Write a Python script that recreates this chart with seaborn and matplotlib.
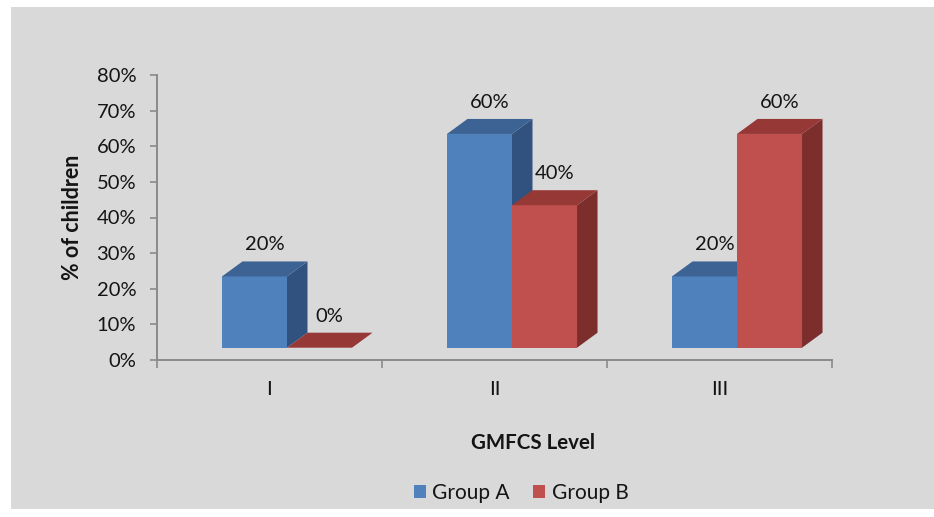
import matplotlib
matplotlib.use("Agg")
import matplotlib.pyplot as plt
import matplotlib.transforms as mtransforms
from matplotlib.patches import Polygon, Rectangle
import seaborn as sns
import pandas as pd

# --- data ---
levels = ["I", "II", "III"]
groups = ["Group A", "Group B"]
group_a = [20, 60, 20]
group_b = [0, 40, 60]
y_ticks = [0, 10, 20, 30, 40, 50, 60, 70, 80]

df = pd.DataFrame({
    "level": levels * 2,
    "group": [groups[0]] * 3 + [groups[1]] * 3,
    "value": group_a + group_b,
})

front = {"Group A": "#4f81bd", "Group B": "#c0504d"}
top_col = {"Group A": "#3c6394", "Group B": "#953836"}
side_col = {"Group A": "#31527e", "Group B": "#7c2e2d"}
text_col = "#141414"

sns.set_theme(style="white")
plt.rcParams["font.family"] = ["Lato", "DejaVu Sans"]

W, H, DPI = 934, 517, 100
fig = plt.figure(figsize=(W / DPI, H / DPI), dpi=DPI, facecolor="white")
# grey chart area behind everything
fig.patches.append(Rectangle((11 / W, 8 / H), 1 - 11 / W, 1 - 15 / H,
                             transform=fig.transFigure, facecolor="#d9d9d9",
                             edgecolor="none", zorder=-10))

ax_l, ax_r, ax_b, ax_t = 157, 832, 360, 75
ax = fig.add_axes([ax_l / W, 1 - ax_b / H, (ax_r - ax_l) / W, (ax_b - ax_t) / H])
ax.set_facecolor("none")

sns.barplot(data=df, x="level", y="value", hue="group", order=levels,
            hue_order=groups, palette=front, width=0.578, gap=0,
            edgecolor="none", linewidth=0, saturation=1, ax=ax, legend=True)

ax.set_xlim(-0.5, 2.5)
ax.set_ylim(0, 80)

# 3-D look: raise the front faces and add top and side faces
shift_px = (17.5, 12.3)
depth_px = (20.5, 15.0)
px_per_x = (ax_r - ax_l) / 3.0
px_per_y = (ax_b - ax_t) / 80.0
ddx = depth_px[0] / px_per_x
ddy = depth_px[1] / px_per_y
tr = mtransforms.offset_copy(ax.transData, fig=fig, x=shift_px[0], y=shift_px[1], units="dots")
label_tr = mtransforms.offset_copy(tr, fig=fig, x=0, y=8, units="dots")

for zi, (cont, g) in enumerate(zip(ax.containers, groups)):
    z = 2 + zi
    for bar in cont:
        bar.set_transform(tr)
        bar.set_zorder(z)
        x0, x1 = bar.get_x(), bar.get_x() + bar.get_width()
        y0, y1 = bar.get_y(), bar.get_y() + bar.get_height()
        side = Polygon([(x1, y0), (x1, y1), (x1 + ddx, y1 + ddy), (x1 + ddx, y0 + ddy)],
                       closed=True, facecolor=side_col[g], edgecolor="none",
                       transform=tr, zorder=z)
        topf = Polygon([(x0, y1), (x1, y1), (x1 + ddx, y1 + ddy), (x0 + ddx, y1 + ddy)],
                       closed=True, facecolor=top_col[g], edgecolor="none",
                       transform=tr, zorder=z)
        ax.add_patch(side)
        ax.add_patch(topf)
        ax.text((x0 + x1) / 2 + ddx / 2, y1 + ddy, f"{bar.get_height():.0f}%",
                transform=label_tr, ha="center", va="bottom", fontsize=14.5,
                color=text_col, zorder=10)

# axes styling
axis_grey = "#8a8a8a"
for s in ["top", "right"]:
    ax.spines[s].set_visible(False)
for s in ["left", "bottom"]:
    ax.spines[s].set_color(axis_grey)
    ax.spines[s].set_linewidth(1.4)

ax.set_yticks(y_ticks)
ax.set_yticklabels([f"{v}%" for v in y_ticks])
ax.tick_params(axis="y", which="major", direction="out", length=5, width=1.2,
               color=axis_grey, pad=10, labelsize=14.5, labelcolor=text_col, left=True)
ax.set_xticks(range(len(levels)))
ax.set_xticklabels(levels)
ax.set_xticks([-0.5, 0.5, 1.5, 2.5], minor=True)
ax.tick_params(axis="x", which="major", length=0, pad=15, labelsize=14.5, labelcolor=text_col)
ax.tick_params(axis="x", which="minor", direction="out", length=6, width=1.2,
               color=axis_grey, bottom=True)

ax.set_xlabel("")
ax.set_ylabel("% of children", fontsize=15.5, fontweight="bold", color=text_col)
ax.yaxis.set_label_coords((83 - ax_l) / (ax_r - ax_l), 0.5)

fig.text(533 / W, 1 - 443 / H, "GMFCS Level", ha="center", va="center",
         fontsize=14.8, fontweight="bold", color=text_col)

sns.move_legend(ax, "center", bbox_to_anchor=(521 / W, 1 - 493 / H),
                bbox_transform=fig.transFigure, ncol=2, frameon=False, title=None,
                fontsize=15, handlelength=0.6, handleheight=0.6,
                handletextpad=0.3, columnspacing=1.1, borderpad=0)
for t in ax.get_legend().get_texts():
    t.set_color(text_col)

fig.savefig("out.png", dpi=DPI, facecolor=fig.get_facecolor())
